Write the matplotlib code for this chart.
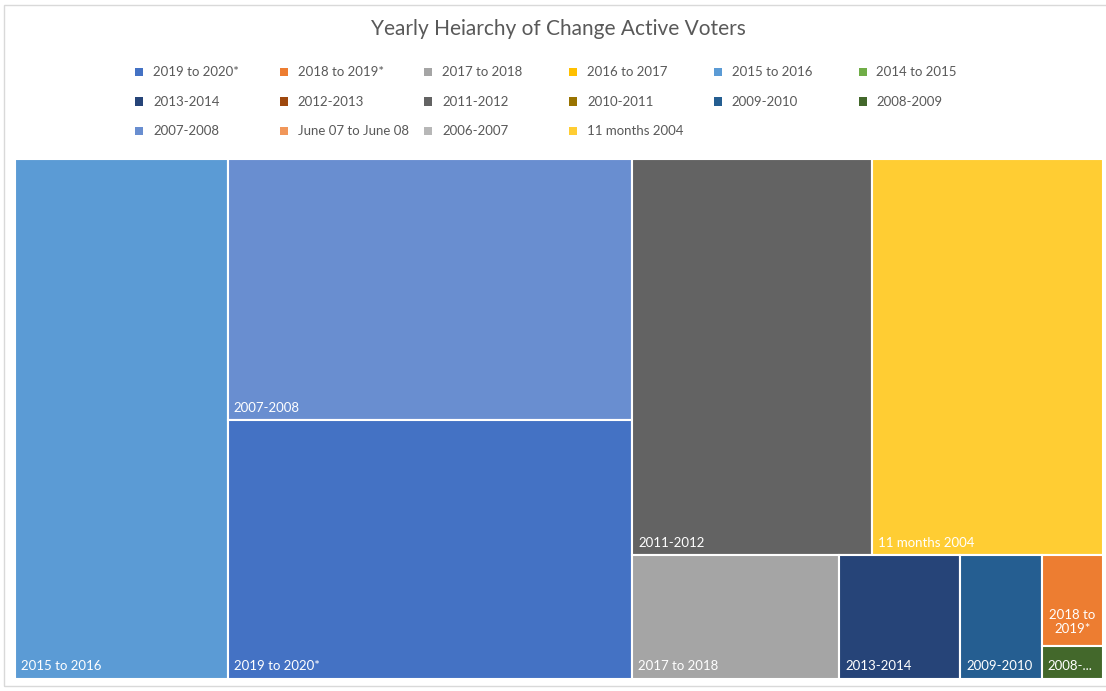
import matplotlib.pyplot as plt
from matplotlib.patches import Rectangle

# Data (legend order), values
periods = ['2019 to 2020*', '2018 to 2019*', '2017 to 2018', '2016 to 2017',
           '2015 to 2016', '2014 to 2015', '2013-2014', '2012-2013',
           '2011-2012', '2010-2011', '2009-2010', '2008-2009',
           '2007-2008', 'June 07 to June 08', '2006-2007', '11 months 2004']
voters = [104200, 5500, 25500, 0,
          110200, 0, 14900, 0,
          95000, 0, 10100, 2000,
          105400, 0, 0, 91100]
colors = ['#4472C4', '#ED7D31', '#A5A5A5', '#FFC000',
          '#5B9BD5', '#70AD47', '#264478', '#9E480E',
          '#636363', '#997300', '#255E91', '#43682B',
          '#698ED0', '#F1975A', '#B7B7B7', '#FFCD33']

value = dict(zip(periods, voters))
color = dict(zip(periods, colors))

# nesting of the treemap: 'h' splits across, 'v' splits down
layout = ('h', ['2015 to 2016',
                ('v', ['2007-2008', '2019 to 2020*']),
                ('v', [('h', ['2011-2012', '11 months 2004']),
                       ('h', ['2017 to 2018', '2013-2014', '2009-2010',
                              ('v', ['2018 to 2019*', '2008-2009'])])])])

FONT = ['Lato', 'DejaVu Sans']
TXT = '#595959'
W, H = 1106, 691


def total(node):
    if isinstance(node, str):
        return value[node]
    return sum(total(c) for c in node[1])


def place(node, x, y, w, h, out):
    if isinstance(node, str):
        out.append((node, x, y, w, h))
        return
    direction, kids = node
    s = total(node)
    for k in kids:
        f = total(k) / s
        if direction == 'h':
            place(k, x, y, w * f, h, out)
            x += w * f
        else:
            place(k, x, y, w, h * f, out)
            y += h * f


fig = plt.figure(figsize=(W / 100, H / 100), dpi=100)
fig.patch.set_facecolor('white')

# chart border
fig.add_artist(Rectangle((4 / W, 5 / H), 1.2, 681 / H, transform=fig.transFigure,
                         fill=False, edgecolor='#D9D9D9', linewidth=1))

fig.text(558 / W, 1 - 29 / H, 'Yearly Heiarchy of Change Active Voters',
         ha='center', va='center', fontsize=15, color=TXT, family=FONT)

# legend, uniform columns like Excel
for i, p in enumerate(periods):
    col, row = i % 6, i // 6
    lx = 153 + col * 144.7
    ly = 72 + row * 29.5
    fig.add_artist(Rectangle(((lx - 18) / W, 1 - (ly + 4) / H), 8 / W, 8 / H,
                             transform=fig.transFigure, color=color[p], linewidth=0))
    fig.text(lx / W, 1 - ly / H, p, ha='left', va='center', fontsize=9.5,
             color=TXT, family=FONT)

# treemap axes, 1 data unit = 1 pixel
AW, AH = 1088, 520
ax = fig.add_axes([15 / W, 12 / H, AW / W, AH / H])
ax.set_xlim(0, AW)
ax.set_ylim(AH, 0)
ax.axis('off')

rects = []
place(layout, 0, 0, AW, AH, rects)
renderer = fig.canvas.get_renderer()
LBL = 9.5


def text_width(s):
    t = ax.text(0, 0, s, fontsize=LBL, family=FONT)
    wpx = t.get_window_extent(renderer).width
    t.remove()
    return wpx


for name, x, y, w, h in rects:
    ax.add_patch(Rectangle((x, y), w, h, facecolor=color[name],
                           edgecolor='white', linewidth=1.5))
    avail = w - 10
    if text_width(name) <= avail:
        ax.text(x + 6, y + h - 8.5, name, ha='left', va='baseline',
                fontsize=LBL, color='white', family=FONT)
        continue
    words = name.split()
    if len(words) > 1 and h > 50:
        half = (len(words) + 1) // 2
        lines = [' '.join(words[:half]), ' '.join(words[half:])]
        if max(text_width(s) for s in lines) <= avail:
            ax.text(x + w / 2, y + h - 13, '\n'.join(lines), ha='center',
                    va='baseline', multialignment='center', linespacing=1.25,
                    fontsize=LBL, color='white', family=FONT)
            continue
    k = len(name)
    while k > 1 and text_width(name[:k] + '...') > avail:
        k -= 1
    ax.text(x + 5, y + h - 8.5, name[:k] + '...', ha='left', va='baseline',
            fontsize=LBL, color='white', family=FONT)

fig.savefig('out.png', dpi=100)
